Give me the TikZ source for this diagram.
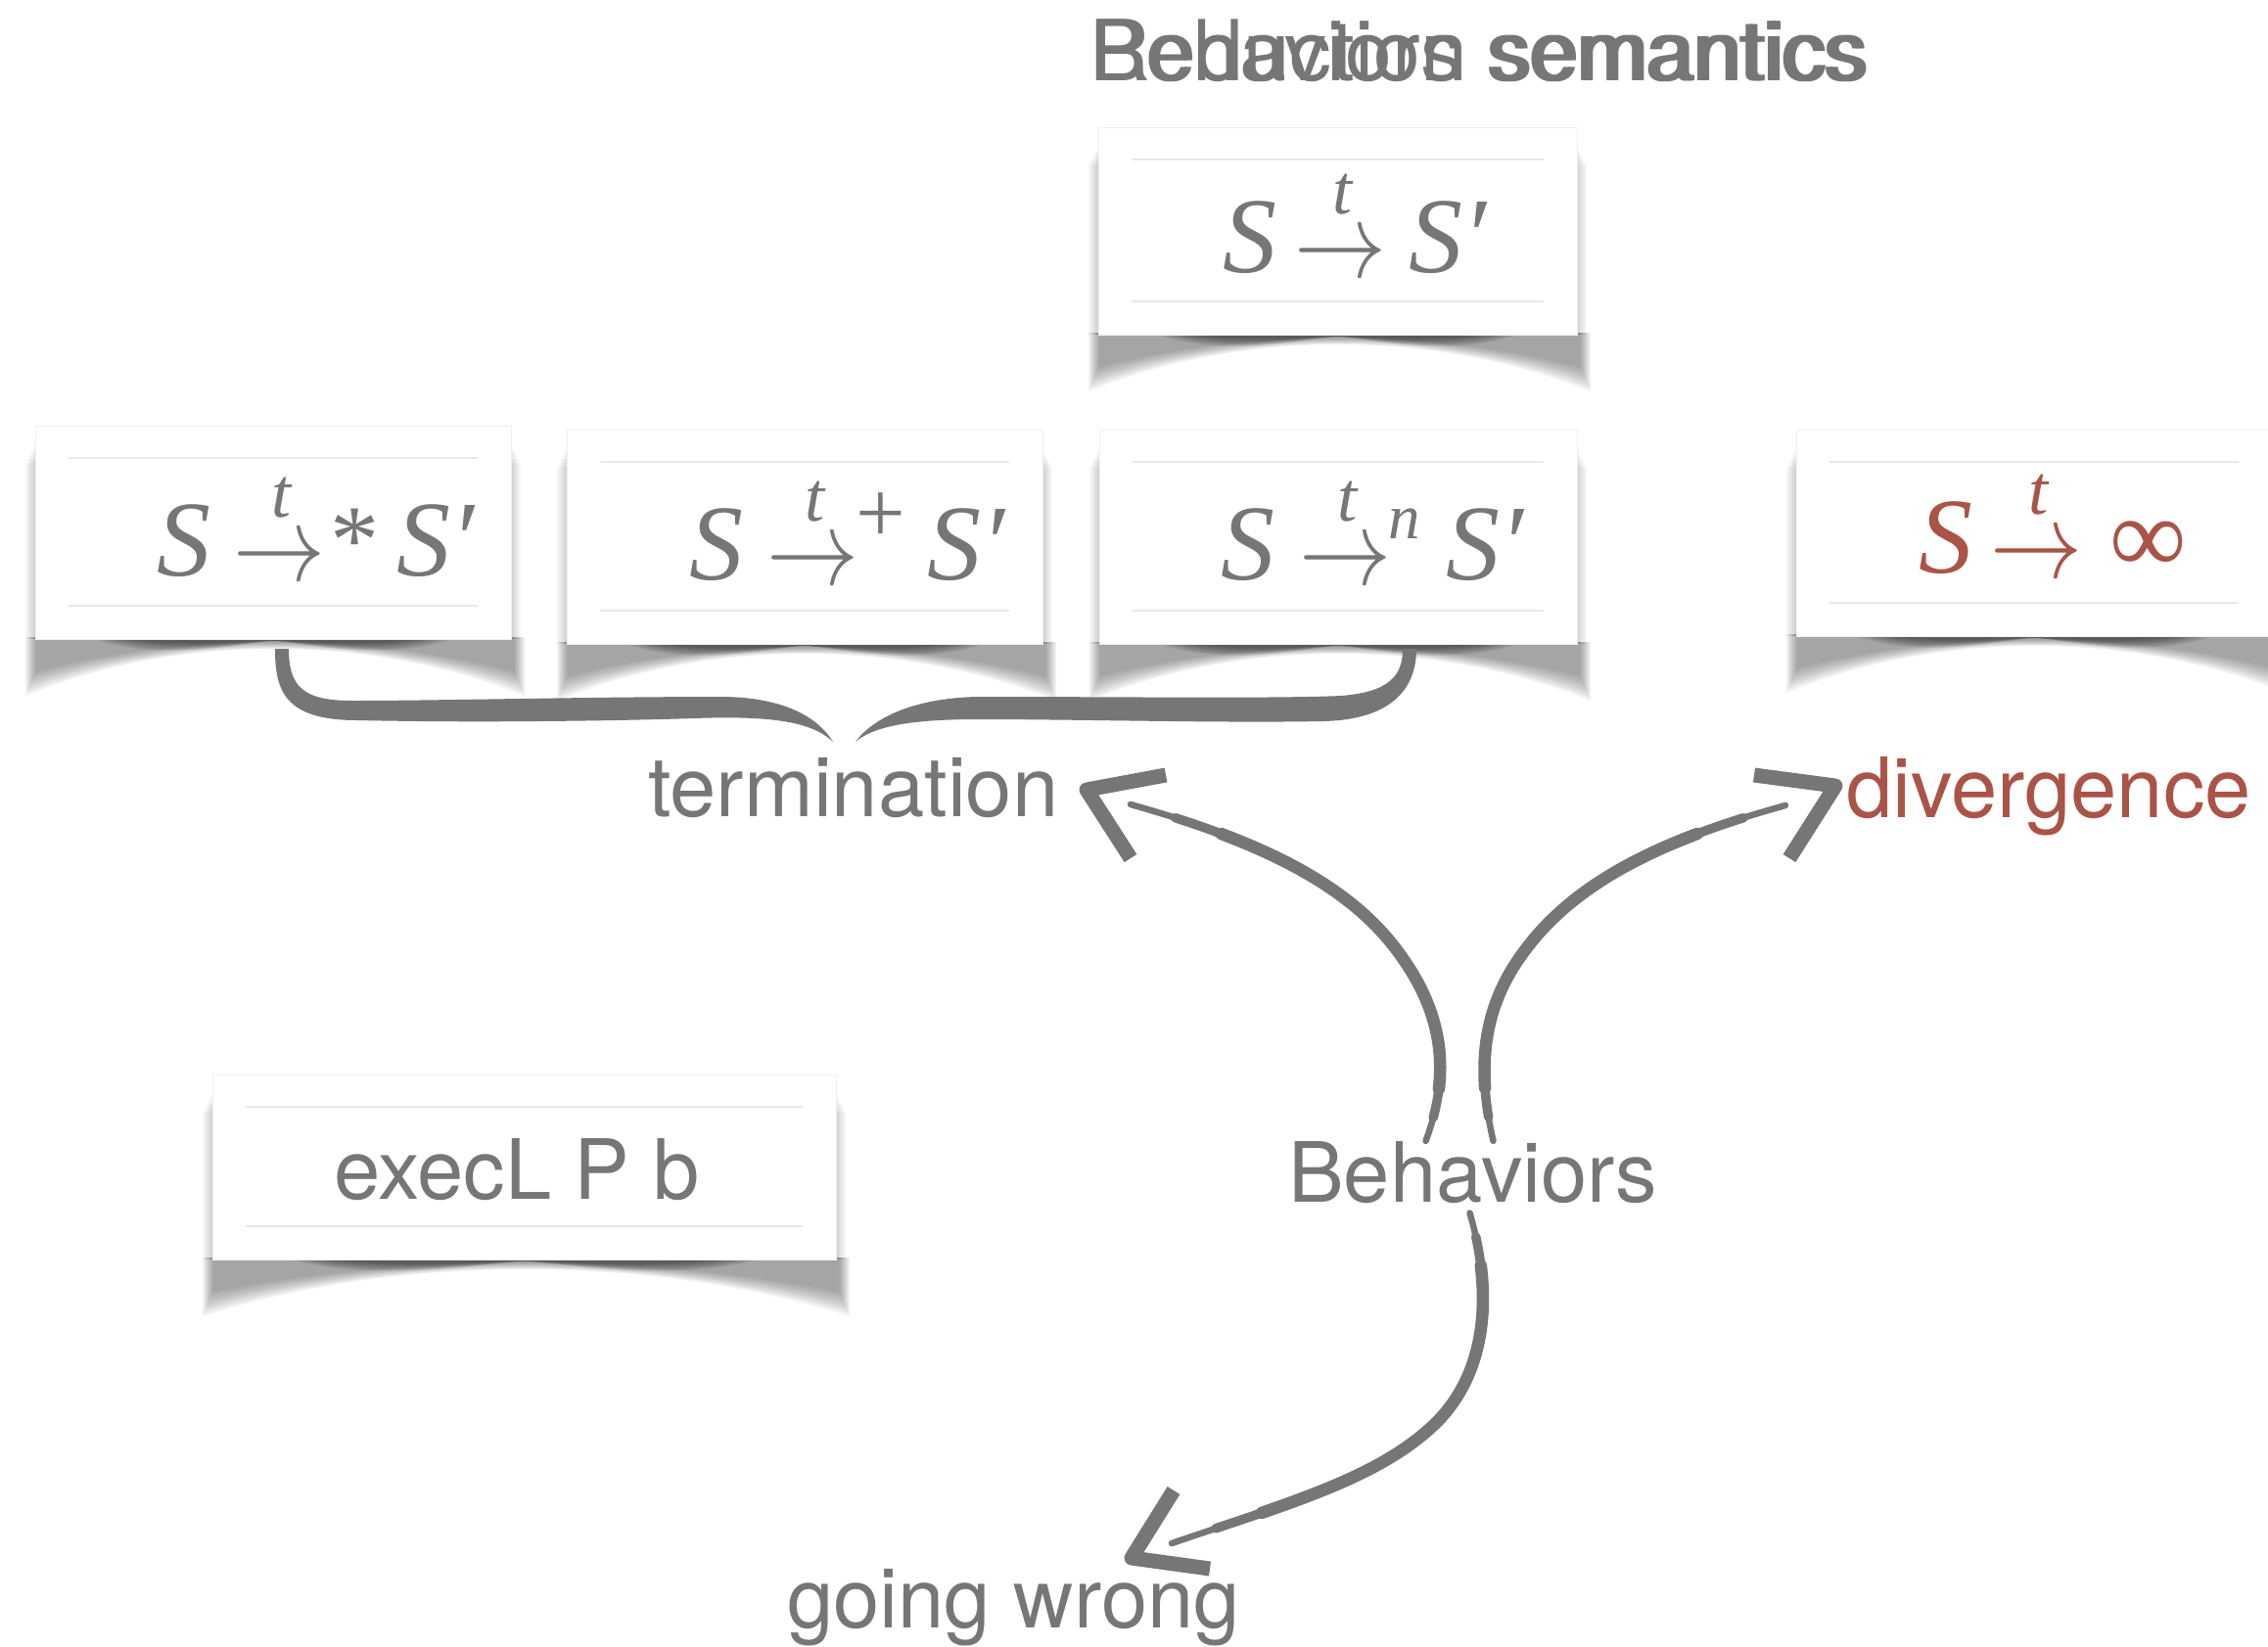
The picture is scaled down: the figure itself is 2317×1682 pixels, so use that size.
\RequirePackage{fix-cm}
\documentclass[tikz,border=0pt]{standalone}
\usepackage{fontspec}
\usepackage{graphicx}
\setmainfont{TeX Gyre Heros}
\newfontfamily\fserif{Liberation Serif}
\definecolor{txtgray}{RGB}{118,118,118}
\definecolor{txtred}{RGB}{170,84,72}
\tikzset{
  lbl/.style={inner sep=0pt, anchor=base west, text=txtgray, font=\fontsize{85}{100}\selectfont},
  fml/.style={inner sep=0pt, anchor=base west, text=txtgray, font=\fontsize{110}{110}\selectfont\fserif},
  shaft/.style={draw=txtgray, line width=6.5pt, line cap=round},
  shaftmid/.style n args={3}{draw=txtgray, line width=#3, line cap=round, dash pattern=on #1 off 3000pt, dash phase=#2},
  ahead/.style={draw=txtgray, line width=15pt, line join=round, line cap=butt},
  bracefill/.style={fill=txtgray, draw=none}
}
\newcommand{\pc}[3]{\makebox[0pt][l]{\hspace*{#1}\raisebox{#2}{#3}}}
\newcommand{\Ar}{\resizebox{94pt}{\height}{$\rightarrow$}}
\newcommand{\Tt}{{\fontsize{72}{72}\selectfont\itshape t}}
\newcommand{\card}[4]{%
  \foreach \k in {1,...,5}{\fill[black,opacity=0.035] ({#1-2*\k},{#2+18+4*\k}) rectangle ({#3+2*\k},{#4});}
  \foreach \k in {0,...,7}{\fill[black,opacity=0.05] ({#1-10+1.5*\k},{#4-2}) -- ({#1-10+1.5*\k},{#4+58-3.5*\k}) .. controls ({#1+0.3*(#3-#1)},{#4-6}) and ({#3-0.3*(#3-#1)},{#4-6}) .. ({#3+14-1.5*\k},{#4+58-3.5*\k}) -- ({#3+14-1.5*\k},{#4-2}) -- cycle;}
  \foreach \k in {0,...,5}{\fill[black,opacity=0.09] ({#1+0.1*(#3-#1)+6*\k},{#4-5}) .. controls ({#1+0.25*(#3-#1)},{#4+28-3.5*\k}) and ({#1+0.45*(#3-#1)},{#4+2}) .. ({#1+0.5*(#3-#1)},{#4+2}) .. controls ({#3-0.45*(#3-#1)},{#4+2}) and ({#3-0.25*(#3-#1)},{#4+28-3.5*\k}) .. ({#3-0.1*(#3-#1)-6*\k},{#4-5}) -- cycle;}
  \fill[white] (#1,#2) rectangle (#3,#4);
  \draw[black!6,line width=1pt] (#1,#2) rectangle (#3,#4);
  \draw[black!9,line width=1.5pt] ({#1+34},{#2+33}) -- ({#3-34},{#2+33}) ({#1+34},{#4-34}) -- ({#3-34},{#4-34});
}
\begin{document}
\begin{tikzpicture}[x=1pt,y=-1pt]
\path[use as bounding box] (0,0) rectangle (2317,1682);
\clip (0,0) rectangle (2317,1682);
\fill[white] (0,0) rectangle (2317,1682);

% cards
\card{1122}{130}{1611}{342}
\card{36}{435}{522}{653}
\card{579}{439}{1065}{658}
\card{1123}{439}{1611}{658}
\card{1835}{439}{2321}{650}
\card{217}{1098}{854}{1287}

% title (two overlapping texts)
\node[lbl, font=\fontsize{86}{100}\selectfont] (title1) at (1113,82) {Reduction semantics};
\node[lbl, font=\fontsize{86}{100}\selectfont] (title2) at (1113,82) {Behaviors semantics};

% formulas
\node[fml] (fT) at (1249,278) {\pc{0pt}{0pt}{\itshape S}\pc{73pt}{-5pt}{\Ar}\pc{112pt}{60pt}{\Tt}\pc{190pt}{0pt}{\itshape S′}};
\node[fml] (fA) at (160,588) {\pc{0pt}{0pt}{\itshape S}\pc{78pt}{-5pt}{\Ar}\pc{117pt}{60pt}{\Tt}\pc{177pt}{3pt}{\fontsize{100}{100}\selectfont *}\pc{245pt}{0pt}{\itshape S′}};
\node[fml] (fB) at (704,592) {\pc{0pt}{0pt}{\itshape S}\pc{79pt}{-5pt}{\Ar}\pc{118pt}{60pt}{\Tt}\pc{170pt}{38pt}{\fontsize{90}{90}\selectfont +}\pc{243pt}{0pt}{\itshape S′}};
\node[fml] (fC) at (1247,592) {\pc{0pt}{0pt}{\itshape S}\pc{80pt}{-5pt}{\Ar}\pc{119pt}{60pt}{\Tt}\pc{171pt}{42pt}{\fontsize{65}{65}\selectfont\itshape n}\pc{230pt}{0pt}{\itshape S′}};
\node[fml, text=txtred] (fD) at (1960,585) {\pc{0pt}{0pt}{\itshape S}\pc{73pt}{-5pt}{\Ar}\pc{112pt}{60pt}{\Tt}\pc{195pt}{0pt}{∞}};

% labels
\node[lbl] (term) at (662,834) {termination};
\node[lbl, text=txtred] (div) at (1886,835) {divergence};
\node[lbl] (beh) at (1316,1228) {Behaviors};
\node[lbl] (wrong) at (804,1663) {going wrong};
\node[lbl] (exec) at (341,1225) {execL P b};

% brace
\path[bracefill] (281,663) .. controls (281,705) and (290,736) .. (365,736)
  .. controls (500,739) and (650,736) .. (709,734)
  .. controls (790,731) and (830,738) .. (851,758)
  .. controls (835,732) and (800,713) .. (740,712)
  .. controls (600,712) and (450,716) .. (360,716)
  .. controls (310,716) and (295,702) .. (295,663) -- cycle;
\path[bracefill] (874,758) .. controls (890,736) and (930,713) .. (1000,712)
  .. controls (1150,712) and (1300,714) .. (1370,711)
  .. controls (1420,707) and (1433,690) .. (1433,663)
  -- (1447,663)
  .. controls (1447,705) and (1420,736) .. (1350,737)
  .. controls (1250,739) and (1100,735) .. (1000,735)
  .. controls (940,735) and (895,740) .. (874,758) -- cycle;

% arrow end coordinates
\coordinate (tEnd) at (1155,822);
\coordinate (tTip) at (1110,807);
\coordinate (dEnd) at (1824,823);
\coordinate (dTip) at (1875,803);
\coordinate (wEnd) at (1197,1577);
\coordinate (wTip) at (1156,1592);

% arrows: thin full stroke plus thicker middle parts (brush taper)
\draw[shaft] ([xshift=-48pt]beh.north) .. controls (1485,1090) and (1470,1030) .. (1430,975)
  .. controls (1380,905) and (1290,860) .. (tEnd);
\draw[shaftmid={450pt}{3425pt}{9.5pt}] ([xshift=-48pt]beh.north) .. controls (1485,1090) and (1470,1030) .. (1430,975)
  .. controls (1380,905) and (1290,860) .. (tEnd);
\draw[shaftmid={370pt}{3315pt}{12.5pt}] ([xshift=-48pt]beh.north) .. controls (1485,1090) and (1470,1030) .. (1430,975)
  .. controls (1380,905) and (1290,860) .. (tEnd);

\draw[shaft] ([xshift=21pt]beh.north) .. controls (1508,1090) and (1515,1030) .. (1555,975)
  .. controls (1605,905) and (1690,860) .. (dEnd);
\draw[shaftmid={445pt}{3420pt}{9.5pt}] ([xshift=21pt]beh.north) .. controls (1508,1090) and (1515,1030) .. (1555,975)
  .. controls (1605,905) and (1690,860) .. (dEnd);
\draw[shaftmid={365pt}{3310pt}{12.5pt}] ([xshift=21pt]beh.north) .. controls (1508,1090) and (1515,1030) .. (1555,975)
  .. controls (1605,905) and (1690,860) .. (dEnd);

\draw[shaft] ([xshift=-3pt,yshift=-10pt]beh.south) .. controls (1525,1320) and (1520,1400) .. (1468,1453)
  .. controls (1410,1510) and (1320,1535) .. (wEnd);
\draw[shaftmid={455pt}{3430pt}{9.5pt}] ([xshift=-3pt,yshift=-10pt]beh.south) .. controls (1525,1320) and (1520,1400) .. (1468,1453)
  .. controls (1410,1510) and (1320,1535) .. (wEnd);
\draw[shaftmid={375pt}{3320pt}{12.5pt}] ([xshift=-3pt,yshift=-10pt]beh.south) .. controls (1525,1320) and (1520,1400) .. (1468,1453)
  .. controls (1410,1510) and (1320,1535) .. (wEnd);

\draw[ahead] ([shift={(81,-15)}]tTip) -- (tTip) -- ([shift={(45,70)}]tTip);
\draw[ahead] ([shift={(-83,-11)}]dTip) -- (dTip) -- ([shift={(-47,74)}]dTip);
\draw[ahead] ([shift={(43,-69)}]wTip) -- (wTip) -- ([shift={(80,11)}]wTip);
\end{tikzpicture}
\end{document}
